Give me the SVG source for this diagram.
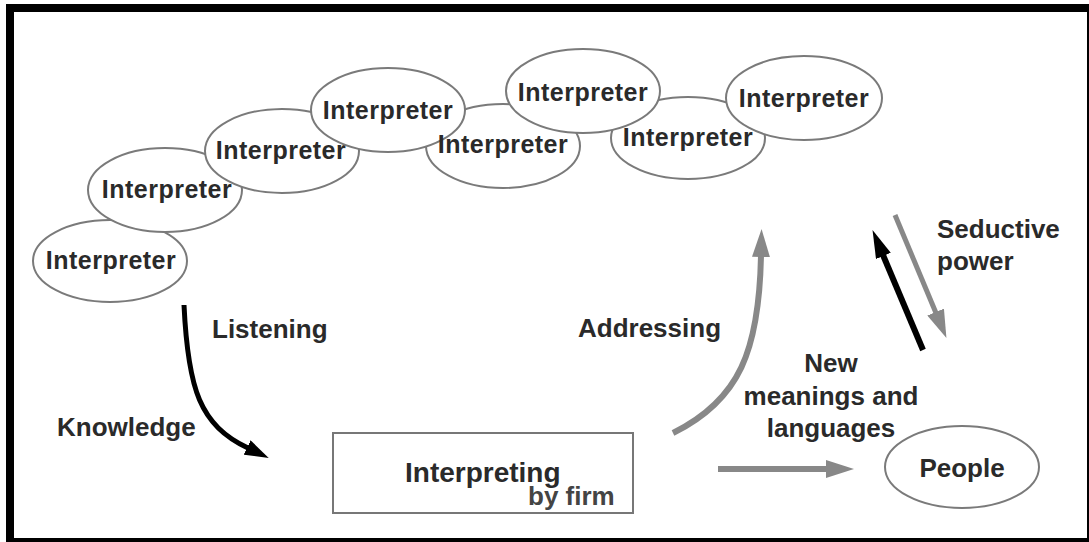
<svg xmlns="http://www.w3.org/2000/svg" width="1089" height="542" viewBox="0 0 1089 542">
  <style>
    .ell { fill: #fff; stroke: #7a7a7a; stroke-width: 2; }
    .itxt { font-family: "Liberation Sans", Arial, sans-serif; font-weight: bold; font-size: 25px; fill: #2a2a2a; text-anchor: middle; letter-spacing: 0.5px; }
    .lbl { font-family: "Liberation Sans", Arial, sans-serif; font-weight: bold; font-size: 26px; fill: #2a2a2a; }
    .box { fill: #fff; stroke: #777; stroke-width: 2; }
    .black { fill: none; stroke: #000; stroke-width: 5; }
    .gray { fill: none; stroke: #888; stroke-width: 6; }
  </style>
  <defs>
    <marker id="headBlack" viewBox="0 0 24 16" refX="1" refY="8" markerWidth="24" markerHeight="16" markerUnits="userSpaceOnUse" orient="auto">
      <path d="M0,0 L24,8 L0,16 z" fill="#000"/>
    </marker>
    <marker id="headBlackL" viewBox="0 0 28 16" refX="1" refY="8" markerWidth="28" markerHeight="16" markerUnits="userSpaceOnUse" orient="auto">
      <path d="M0,0 L28,8 L0,16 z" fill="#000"/>
    </marker>
    <marker id="headGray" viewBox="0 0 28 18" refX="1" refY="9" markerWidth="28" markerHeight="18" markerUnits="userSpaceOnUse" orient="auto">
      <path d="M0,0 L28,9 L0,18 z" fill="#888"/>
    </marker>
  </defs>

  <rect x="0" y="0" width="1089" height="542" fill="#fff"/>
  <!-- frame -->
  <g id="frame" fill="#000">
    <rect x="6" y="4" width="1083" height="8"/>
    <rect x="6" y="4" width="8" height="538"/>
    <rect x="6" y="538" width="1083" height="4"/>
    <rect x="1087" y="4" width="2" height="538"/>
  </g>

  <g id="interpreter1"><ellipse class="ell" cx="110" cy="261" rx="77" ry="41"/><text class="itxt" x="111" y="269">Interpreter</text></g>
  <g id="interpreter2"><ellipse class="ell" cx="165" cy="190" rx="77" ry="42"/><text class="itxt" x="167" y="198">Interpreter</text></g>
  <g id="interpreter3"><ellipse class="ell" cx="282" cy="151" rx="77" ry="42"/><text class="itxt" x="281" y="159">Interpreter</text></g>
  <g id="interpreter5"><ellipse class="ell" cx="503" cy="146" rx="77" ry="42"/></g>
  <g id="interpreter4"><ellipse class="ell" cx="388" cy="110" rx="77" ry="42"/></g>
  <g id="interpreter7"><ellipse class="ell" cx="688" cy="138" rx="77" ry="41"/></g>
  <g id="interpreter6"><ellipse class="ell" cx="583" cy="91" rx="77" ry="42"/></g>
  <g id="interpreter8"><ellipse class="ell" cx="804" cy="98" rx="78" ry="42"/></g>
  <g id="interpreter-labels">
    <text class="itxt" x="388" y="119">Interpreter</text>
    <text class="itxt" x="503" y="153">Interpreter</text>
    <text class="itxt" x="583" y="101">Interpreter</text>
    <text class="itxt" x="688" y="146">Interpreter</text>
    <text class="itxt" x="804" y="107">Interpreter</text>
  </g>

  <g id="firm">
    <rect class="box" x="333" y="433" width="300" height="80"/>
    <text class="lbl" x="405" y="482" font-size="28" style="font-size:28px">Interpreting</text>
    <text class="lbl" x="528" y="505" style="fill:#444">by firm</text>
  </g>

  <g id="people">
    <ellipse class="ell" cx="962" cy="467" rx="77" ry="41"/>
    <text class="lbl" x="962" y="477" text-anchor="middle">People</text>
  </g>

  <g id="connectors">
    <path class="black" d="M184,305 C188,390 200,425 248,448" marker-end="url(#headBlack)"/>
    <path class="gray" d="M673,433 C740,400 759,350 761,256" marker-end="url(#headGray)"/>
    <path class="gray" d="M718,469 L827,469" marker-end="url(#headGray)"/>
    <path class="black" d="M923,350 L883,255" style="stroke-width:6" marker-end="url(#headBlackL)"/>
    <path class="gray" d="M895,215 L936,313" style="stroke-width:5" marker-end="url(#headGray)"/>
  </g>

  <g id="labels">
    <text class="lbl" x="212" y="338">Listening</text>
    <text class="lbl" x="57" y="436">Knowledge</text>
    <text class="lbl" x="578" y="337">Addressing</text>
    <text class="lbl" x="831" y="372" text-anchor="middle">New</text>
    <text class="lbl" x="831" y="405" text-anchor="middle">meanings and</text>
    <text class="lbl" x="831" y="437" text-anchor="middle">languages</text>
    <text class="lbl" x="937" y="238">Seductive</text>
    <text class="lbl" x="937" y="270">power</text>
  </g>
</svg>
